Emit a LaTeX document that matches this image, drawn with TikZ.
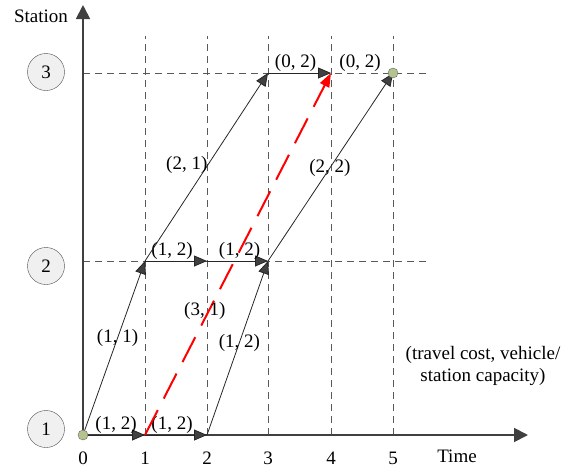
\documentclass[tikz,border=0pt]{standalone}
\usepackage{fontspec}
\setmainfont{Liberation Serif}
\usepackage{xcolor}
\usepackage{tikz}
\usetikzlibrary{arrows.meta,positioning}

\definecolor{axisgray}{HTML}{404040}
\definecolor{dotgreen}{HTML}{B5C48C}

\begin{document}
\begin{tikzpicture}[
    x=1pt, y=-1pt,
    font=\fontsize{19}{22}\selectfont,
    axis/.style={draw=axisgray, line width=1.8pt, -{Triangle[length=14pt,width=14pt]}},
    grid/.style={draw=black!65, dash pattern=on 7pt off 5pt, line width=0.8pt},
    arc/.style={draw=black!85, line width=0.8pt, -{Triangle[length=13pt,width=11pt,fill=axisgray]}},
    redarc/.style={draw=red, line width=2pt, dash pattern=on 28pt off 13pt, -{Triangle[length=14pt,width=10pt]}},
    station/.style={circle, draw=black!70, fill=black!6, minimum size=37pt, inner sep=0pt},
    dot/.style={circle, draw=black!60, fill=dotgreen, minimum size=10pt, inner sep=0pt},
    tick/.style={text height=13pt, text depth=0pt, inner sep=0pt},
    lbl/.style={inner sep=1pt}
]
\useasboundingbox (0,0) rectangle (573,472);

% grid points: n<station><time>
\foreach \s/\y in {1/435,2/261,3/73}
  \foreach \t/\x in {0/83,1/145,2/207,3/268,4/331,5/393}
    \coordinate (n\s\t) at (\x,\y);
\coordinate (ytop) at (83,5);
\coordinate (xend) at (528,435);
\coordinate (gtop) at (0,36);
\coordinate (gend) at (430,0);

% dashed grid
\foreach \t in {1,...,5}
  \draw[grid] (n1\t) -- (n1\t |- gtop);
\foreach \s in {2,3}
  \draw[grid] (n\s0) -- (n\s0 -| gend);

% axes
\draw[axis] (n10) -- (ytop);
\draw[axis] (n10) -- (xend);
\node (ylab) at (41,16) {Station};
\node (xlab) at (457,456) {Time};
\foreach \t in {0,...,5}
  \node[tick, below=16pt of n1\t] (tick\t) {\t};

% stations
\node[station] (st1) at (46,429) {1};
\node[station] (st2) at (46,266) {2};
\node[station] (st3) at (46,72) {3};

% arcs
\draw[arc] (n10) -- node[lbl, above, xshift=2pt] {(1, 2)} (n11);
\draw[arc] (n11) -- node[lbl, above, xshift=-4pt] {(1, 2)} (n12);
\draw[arc] (n10) -- node[lbl, pos=0.557] {(1, 1)} (n21);
\draw[arc] (n12) -- node[lbl, pos=0.53] {(1, 2)} (n23);
\draw[arc] (n21) -- node[lbl, above, xshift=-4pt] {(1, 2)} (n22);
\draw[arc] (n22) -- node[lbl, above, xshift=2pt] {(1, 2)} (n23);
\draw[arc] (n21) -- node[lbl, pos=0.51, left, inner sep=0pt] {(2, 1)} (n33);
\draw[arc] (n23) -- node[lbl, pos=0.495] {(2, 2)} (n35);
\draw[arc] (n33) -- node[lbl, above, xshift=-4pt] {(0, 2)} (n34);
\path (n34) -- node[lbl, above, xshift=-2pt] {(0, 2)} (n35);
\draw[redarc] (n11) -- node[lbl, pos=0.343, xshift=-4pt] {(3, 1)} (n34);

% source and sink
\node[dot] (src) at (n10) {};
\node[dot] (snk) at (n35) {};

\node[align=center] (legend) at (483,366) {(travel cost, vehicle/\\station capacity)};

\end{tikzpicture}
\end{document}
